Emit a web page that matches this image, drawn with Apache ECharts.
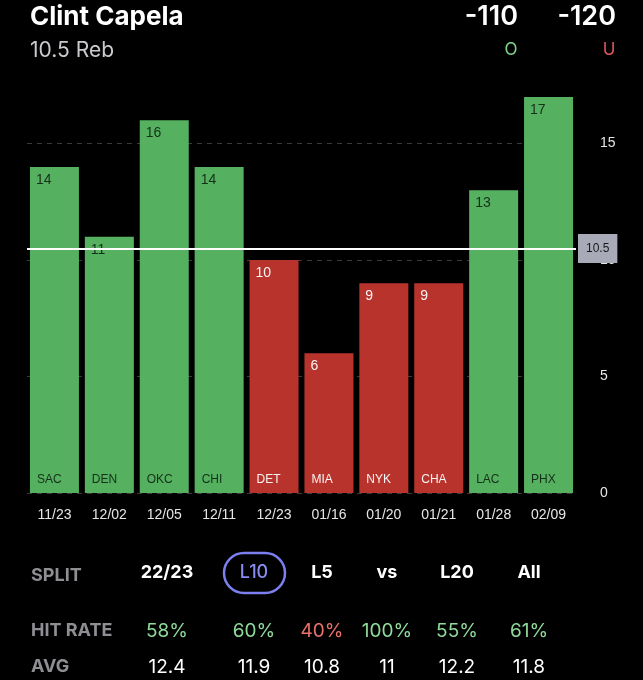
<!DOCTYPE html>
<html>
<head>
<meta charset="utf-8">
<script src="https://cdn.jsdelivr.net/npm/echarts@6/dist/echarts.min.js"></script>
<style>
html,body{margin:0;padding:0;background:#000;}
#chart{width:643px;height:680px;}
</style>
</head>
<body>
<div id="chart"></div>
<script>
// ---- data ----
const playerName = 'Clint Capela';
const propLabel = '10.5 Reb';
const propLine = 10.5;
const overOdds = '-110';
const underOdds = '-120';
const dates = ['11/23', '12/02', '12/05', '12/11', '12/23', '01/16', '01/20', '01/21', '01/28', '02/09'];
const teams = ['SAC', 'DEN', 'OKC', 'CHI', 'DET', 'MIA', 'NYK', 'CHA', 'LAC', 'PHX'];
const rebounds = [14, 11, 16, 14, 10, 6, 9, 9, 13, 17];
const yTicks = [0, 5, 10, 15];
const splitLabels = ['22/23', 'L10', 'L5', 'vs', 'L20', 'All'];
const hitRates = [58, 60, 40, 100, 55, 61];
const averages = ['12.4', '11.9', '10.8', '11', '12.2', '11.8'];
const selectedSplit = 'L10';

// ---- styles ----
const GREEN = '#55b060';
const RED = '#b9332d';
const DARK_TXT = '#15301a';
const LIGHT_TXT = '#f4f4f4';
const UI_FONT = 'Inter, "Noto Sans", sans-serif';
const CH_FONT = '"Liberation Sans", Arial, sans-serif';
const colX = [167, 254, 322, 387, 457, 529];

const chart = echarts.init(document.getElementById('chart'), null, {renderer: 'canvas'});

const barData = rebounds.map(v => ({
  value: v,
  itemStyle: {color: v > propLine ? GREEN : RED},
  label: {color: v > propLine ? DARK_TXT : LIGHT_TXT}
}));
const teamData = rebounds.map(v => ({
  value: v,
  label: {color: v > propLine ? DARK_TXT : LIGHT_TXT}
}));

const graphics = [
  {type: 'text', x: 30, y: 17, style: {text: playerName, fill: '#fff', font: 'bold 26px ' + UI_FONT, verticalAlign: 'middle'}},
  {type: 'text', x: 30, y: 51, style: {text: propLabel, fill: '#c9c9ce', font: '21px ' + UI_FONT, verticalAlign: 'middle'}},
  {type: 'text', x: 518, y: 17, style: {text: overOdds, fill: '#fff', font: '600 27px ' + UI_FONT, align: 'right', verticalAlign: 'middle'}},
  {type: 'text', x: 616, y: 17, style: {text: underOdds, fill: '#fff', font: '600 27px ' + UI_FONT, align: 'right', verticalAlign: 'middle'}},
  {type: 'text', x: 511, y: 50, style: {text: 'O', fill: '#7fd58a', font: '17px ' + UI_FONT, align: 'center', verticalAlign: 'middle'}},
  {type: 'text', x: 609, y: 50, style: {text: 'U', fill: '#e25858', font: '17px ' + UI_FONT, align: 'center', verticalAlign: 'middle'}},
  {type: 'text', x: 31, y: 576, style: {text: 'SPLIT', fill: '#8e8e93', font: 'bold 18px ' + UI_FONT, verticalAlign: 'middle'}},
  {type: 'text', x: 31, y: 631, style: {text: 'HIT RATE', fill: '#8e8e93', font: 'bold 18px ' + UI_FONT, verticalAlign: 'middle'}},
  {type: 'text', x: 31, y: 667, style: {text: 'AVG', fill: '#8e8e93', font: 'bold 18px ' + UI_FONT, verticalAlign: 'middle'}}
];
splitLabels.forEach((s, i) => {
  const sel = s === selectedSplit;
  if (sel) {
    graphics.push({type: 'rect', shape: {x: colX[i] - 30, y: 553, width: 61, height: 40, r: 20},
      style: {fill: 'none', stroke: '#7b7ff0', lineWidth: 2.5}});
  }
  graphics.push({type: 'text', x: colX[i], y: 573, style: {text: s, fill: sel ? '#8a8cf2' : '#fff',
    font: (sel ? '500' : 'bold') + ' 18px ' + UI_FONT, align: 'center', verticalAlign: 'middle'}});
  graphics.push({type: 'text', x: colX[i], y: 631, style: {text: hitRates[i] + '%',
    fill: hitRates[i] >= 50 ? '#8fd99a' : '#e8716b', font: '19px ' + UI_FONT, align: 'center', verticalAlign: 'middle'}});
  graphics.push({type: 'text', x: colX[i], y: 667, style: {text: averages[i], fill: '#fff',
    font: '19px ' + UI_FONT, align: 'center', verticalAlign: 'middle'}});
});

chart.setOption({
  backgroundColor: '#000',
  animation: false,
  grid: {left: 27, right: 67, top: 97, bottom: 187},
  xAxis: {
    type: 'category',
    data: dates,
    axisLine: {show: false},
    axisTick: {show: false},
    axisLabel: {color: '#e6e6e6', fontSize: 14, fontFamily: CH_FONT, margin: 15}
  },
  yAxis: {
    type: 'value',
    position: 'right',
    min: yTicks[0],
    max: 17,
    interval: yTicks[1] - yTicks[0],
    axisLine: {show: false},
    axisTick: {show: false},
    axisLabel: {color: '#e6e6e6', fontSize: 14, fontFamily: CH_FONT, margin: 24, showMaxLabel: false},
    splitLine: {show: true, showMaxLine: false, lineStyle: {color: '#3a3a3a', type: [5, 5], width: 1}}
  },
  series: [
    {
      type: 'bar',
      data: barData,
      barWidth: 49,
      z: 2,
      label: {show: true, position: 'insideTopLeft', distance: 6, fontSize: 14, fontFamily: CH_FONT, formatter: '{c}'},
      markLine: {
        silent: true,
        symbol: 'none',
        z: 10,
        lineStyle: {color: '#ffffff', width: 2, type: 'solid'},
        label: {show: true, position: 'end', distance: 2, formatter: String(propLine),
          backgroundColor: '#a8aab8', color: '#1a1a1a', padding: [9, 8, 8, 8], fontSize: 12, fontFamily: CH_FONT},
        data: [{yAxis: propLine}]
      }
    },
    {
      type: 'bar',
      data: teamData,
      barWidth: 49,
      barGap: '-100%',
      z: 3,
      silent: true,
      itemStyle: {color: 'rgba(0,0,0,0)'},
      label: {show: true, position: 'insideBottomLeft', distance: 7, fontSize: 12, fontFamily: CH_FONT,
        formatter: p => teams[p.dataIndex]}
    }
  ],
  graphic: graphics
});
</script>
</body>
</html>
